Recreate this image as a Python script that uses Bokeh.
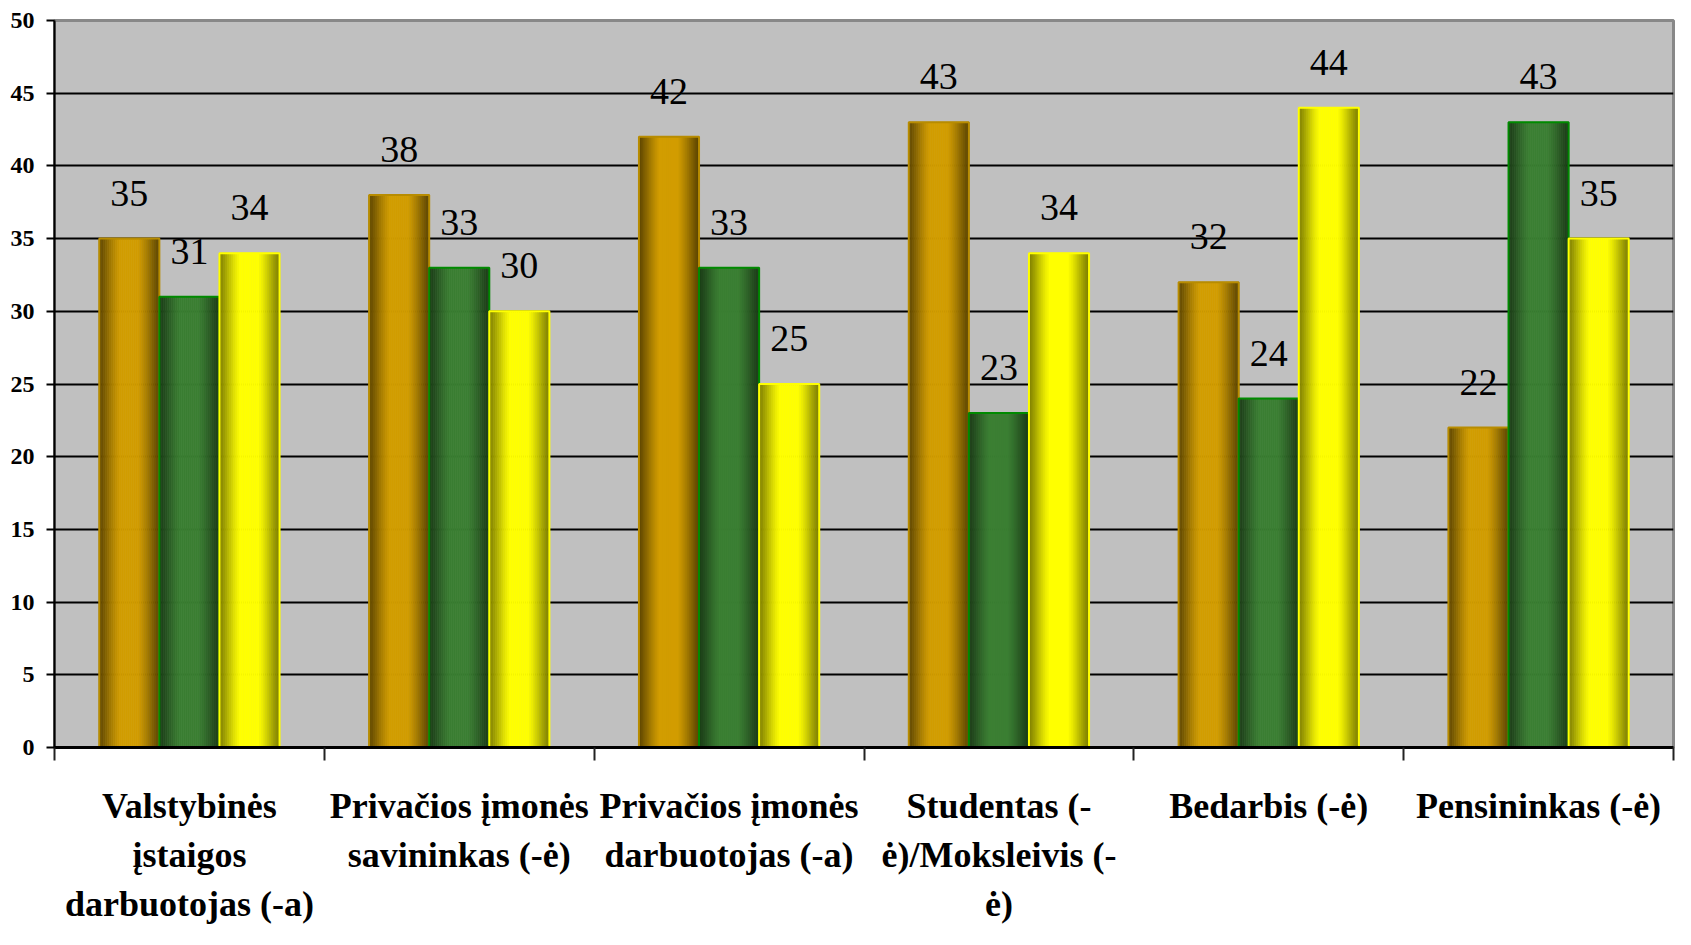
import math
from bokeh.plotting import figure
from bokeh.layouts import column
from bokeh.models import ColumnDataSource, LabelSet, FixedTicker, Range1d
from bokeh.core.properties import value
from bokeh.embed import file_html
from bokeh.resources import INLINE

# ---------------- data ----------------
categories = [
    "Valstybinės\nįstaigos\ndarbuotojas (-a)",
    "Privačios įmonės\nsavininkas (-ė)",
    "Privačios įmonės\ndarbuotojas (-a)",
    "Studentas (-\nė)/Moksleivis (-\nė)",
    "Bedarbis (-ė)",
    "Pensininkas (-ė)",
]
series_1 = [35, 38, 42, 43, 32, 22]
series_2 = [31, 33, 33, 23, 24, 43]
series_3 = [34, 30, 25, 34, 44, 35]
y_ticks = [0, 5, 10, 15, 20, 25, 30, 35, 40, 45, 50]

# ---------------- styles ----------------
series_list = [series_1, series_2, series_3]
base_colors = [(210, 157, 0), (59, 127, 51), (255, 255, 0)]
border_colors = ["#b88c00", "#008a00", "#ffff00"]
edge_factor = [0.45, 0.47, 0.5]

W = 1675
LEFT, RIGHT, TOP = 54, 2, 20
FRAME_H = 727
MAIN_BOTTOM = 30
MAIN_H = TOP + FRAME_H + MAIN_BOTTOM
LABEL_H = 929 - MAIN_H
Y_MAX = 50

bar_w = 0.2227
n_strips = 30

p = figure(width=W, height=MAIN_H, output_backend="svg", toolbar_location=None,
           x_range=Range1d(0, len(categories)), y_range=Range1d(0, Y_MAX),
           min_border_left=LEFT, min_border_right=RIGHT,
           min_border_top=TOP, min_border_bottom=MAIN_BOTTOM)
p.background_fill_color = "#c0c0c0"
p.border_fill_color = "white"
p.outline_line_color = "#888888"
p.outline_line_width = 3

# grid
p.xgrid.visible = False
p.ygrid.ticker = FixedTicker(ticks=y_ticks[1:-1])
p.ygrid.grid_line_color = "black"
p.ygrid.grid_line_width = 2

# y axis
p.yaxis.ticker = FixedTicker(ticks=y_ticks)
p.yaxis.major_label_text_font = "Liberation Serif"
p.yaxis.major_label_text_font_style = "bold"
p.yaxis.major_label_text_font_size = "24px"
p.yaxis.major_label_text_color = "black"
p.yaxis.major_tick_out = 8
p.yaxis.major_tick_in = 0
p.yaxis.major_tick_line_width = 2
p.yaxis.major_tick_line_color = "black"
p.yaxis.minor_tick_line_color = None
p.yaxis.axis_line_width = 2
p.yaxis.axis_line_color = "black"
p.yaxis.major_label_standoff = 12

# x axis: ticks at category boundaries only
p.xaxis.ticker = FixedTicker(ticks=[], minor_ticks=list(range(len(categories) + 1)))
p.xaxis.minor_tick_out = 13
p.xaxis.minor_tick_in = 0
p.xaxis.minor_tick_line_color = "#222222"
p.xaxis.minor_tick_line_width = 2
p.xaxis.major_tick_line_color = None
p.xaxis.major_label_text_font_size = "0px"
p.xaxis.axis_line_width = 3
p.xaxis.axis_line_color = "black"


def shade(rgb, f):
    return "#%02x%02x%02x" % tuple(max(0, min(255, int(round(c * f)))) for c in rgb)


# bars with horizontal gradient (strips)
for s, vals in enumerate(series_list):
    xs, tops, cols = [], [], []
    ef = edge_factor[s]
    for i, v in enumerate(vals):
        center = i + 0.5 + (s - 1) * bar_w
        for k in range(n_strips):
            t = (k + 0.5) / n_strips
            f = ef + (1 - ef) * min(1.0, (math.sin(math.pi * t) ** 1.2) * 1.15)
            xs.append(center - bar_w / 2 + t * bar_w)
            tops.append(v)
            cols.append(shade(base_colors[s], f))
    src = ColumnDataSource(dict(x=xs, top=tops, color=cols))
    p.vbar(x="x", top="top", bottom=0, width=bar_w / n_strips * 1.05, source=src,
           fill_color="color", line_color="color", line_width=0.6)
    centers = [i + 0.5 + (s - 1) * bar_w for i in range(len(vals))]
    bsrc = ColumnDataSource(dict(x=centers, top=vals, label=[str(v) for v in vals]))
    p.vbar(x="x", top="top", bottom=0, width=bar_w, source=bsrc,
           fill_color=None, line_color=border_colors[s], line_width=2)
    p.add_layout(LabelSet(x="x", y="top", text="label", source=bsrc, y_offset=33,
                          text_align="center", text_baseline="alphabetic",
                          text_font="Liberation Serif", text_font_size="38px",
                          text_color="black"))

# category labels in a strip below the chart (shares the x range)
p2 = figure(width=W, height=LABEL_H, output_backend="svg", toolbar_location=None,
            x_range=p.x_range, y_range=Range1d(LABEL_H, 0),
            x_axis_location=None, y_axis_location=None,
            min_border_left=LEFT, min_border_right=RIGHT,
            min_border_top=0, min_border_bottom=0)
p2.grid.visible = False
p2.outline_line_color = None
p2.background_fill_color = "white"
p2.border_fill_color = "white"

first_baseline = 805 - MAIN_H
line_step = 49
lx, ly, lt = [], [], []
for i, c in enumerate(categories):
    for k, line in enumerate(c.split("\n")):
        lx.append(i + 0.5)
        ly.append(first_baseline + k * line_step)
        lt.append(line)
csrc = ColumnDataSource(dict(x=lx, y=ly, text=lt))
p2.text(x="x", y="y", text="text", source=csrc,
        text_align="center", text_baseline="alphabetic",
        text_font=value("Liberation Serif"), text_font_style="bold",
        text_font_size="36px", text_color="black")

layout = column(p, p2, spacing=0)
open("out.html", "w").write(file_html(layout, INLINE))
